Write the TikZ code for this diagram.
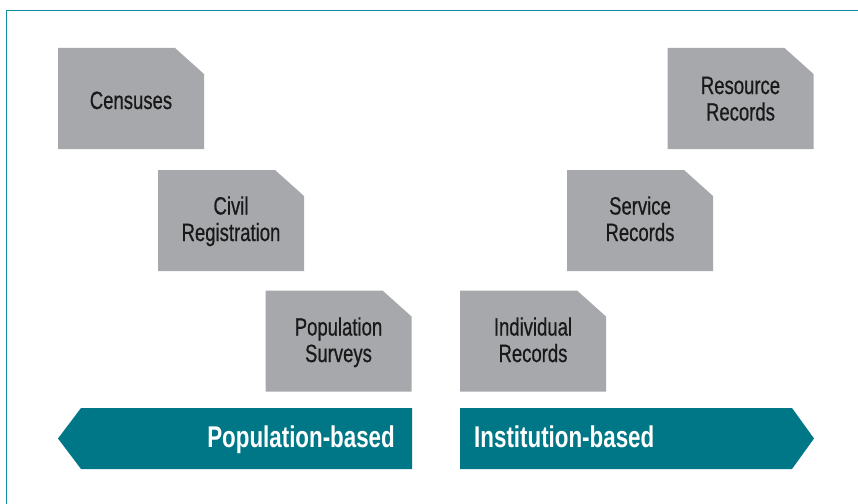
\documentclass[tikz,border=0pt]{standalone}
\usepackage{fontspec}
\newfontfamily\boxfont[FakeStretch=0.74,FakeBold=0.6]{Liberation Sans}
\newfontfamily\barfont[FakeStretch=0.745]{Liberation Sans Bold}
\definecolor{boxgray}{RGB}{167,168,171}
\definecolor{tealbar}{RGB}{0,119,135}
\definecolor{frameteal}{RGB}{20,140,160}
\definecolor{txt}{RGB}{25,25,25}
\tikzset{
  boxlabel/.style={text=txt, font=\boxfont\fontsize{25}{26.5}\selectfont, anchor=base, inner sep=0pt},
  barlabel/.style={text=white, font=\barfont\fontsize{30}{32}\selectfont, inner sep=0pt},
  boxfill/.style={fill=boxgray, draw=none},
  barfill/.style={fill=tealbar, draw=none}
}
% chamfered box: name, left x, top y, text, baseline offset of first line
\newcommand{\cutbox}[5]{%
  \fill[boxfill] (#2,#3) -- ++(117,0) -- ++(29,26) -- ++(0,75) -- ++(-146,0) -- cycle;
  \node[boxlabel] (#1) at ({#2+73},{#3+#5}) {\begin{tabular}[t]{@{}c@{}}#4\end{tabular}};
}
\begin{document}
\begin{tikzpicture}[x=1pt,y=-1pt]
\useasboundingbox (0,0) rectangle (858,503);
\clip (0,0) rectangle (858,503);
\fill[white] (0,0) rectangle (858,503);
\draw[frameteal, line width=1.4pt] (6.5,10.5) rectangle (880,530);

\cutbox{cen}{58}{48}{Censuses}{61}
\cutbox{civ}{158}{170}{Civil\\Registration}{44.5}
\cutbox{pop}{265.5}{290.5}{Population\\Surveys}{45}
\cutbox{res}{667.5}{48}{Resource\\Records}{46}
\cutbox{ser}{567}{170}{Service\\Records}{44.5}
\cutbox{ind}{460}{290.5}{Individual\\Records}{45}

\fill[barfill] (58,438.5) -- (81,408) -- (412,408) -- (412,469) -- (81,469) -- cycle;
\node[barlabel, anchor=base east] (popb) at (395,447) {Population-based};

\fill[barfill] (460,408) -- (792,408) -- (814,438.5) -- (792,469) -- (460,469) -- cycle;
\node[barlabel, anchor=base west] (insb) at (474,447) {Institution-based};
\end{tikzpicture}
\end{document}
